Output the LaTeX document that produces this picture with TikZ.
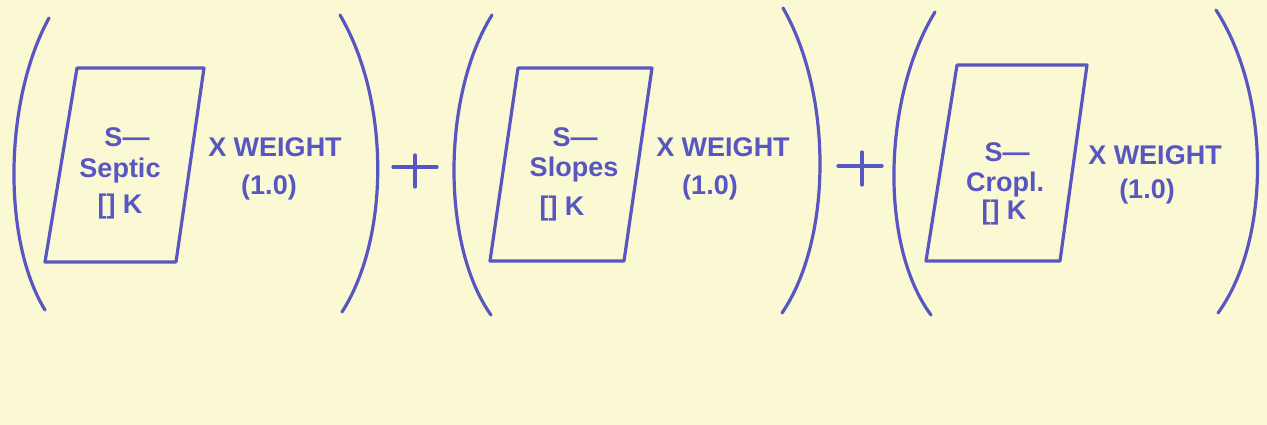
\documentclass[tikz,border=0pt]{standalone}
\usepackage{fontspec}
\setmainfont{Liberation Sans}
\definecolor{paper}{RGB}{250,249,212}
\definecolor{ink}{RGB}{88,86,192}
\tikzset{
  stroke/.style={draw=ink, line width=3.2pt, line cap=round, line join=round},
  lbl/.style={text=ink, font=\fontsize{27}{29}\selectfont\bfseries, inner sep=0pt, anchor=base},
}
\begin{document}
\begin{tikzpicture}[x=1pt,y=-1pt]
\fill[paper] (0,0) rectangle (1267,425);
\useasboundingbox (0,0) rectangle (1267,425);

% group 1
\draw[stroke] (49,18) .. controls (4,100) and (2,240) .. (45,310);
\draw[stroke] (340,15) .. controls (390,100) and (390,237) .. (342,312);
\draw[stroke] (77,68) -- (204,68) -- (176,262) -- (45,262) -- cycle;
\node[lbl] (s1) at (127,147) {S—};
\node[lbl] (t1) at (120,178) {Septic};
\node[lbl] (k1) at (120,213) {[] K};
\node[lbl] (w1) at (275,157) {X WEIGHT};
\node[lbl] (v1) at (269,195) {(1.0)};

% plus 1
\draw[stroke] (393,167) -- (437,167);
\draw[stroke] (415,155) -- (415,187);

% group 2
\draw[stroke] (492,15) .. controls (442,95) and (441,245) .. (491,315);
\draw[stroke] (783,8) .. controls (833,95) and (832,240) .. (782,313);
\draw[stroke] (518,68) -- (652,68) -- (624,261) -- (490,261) -- cycle;
\node[lbl] (s2) at (575,147) {S—};
\node[lbl] (t2) at (574,177) {Slopes};
\node[lbl] (k2) at (562,215) {[] K};
\node[lbl] (w2) at (723,157) {X WEIGHT};
\node[lbl] (v2) at (710,195) {(1.0)};

% plus 2
\draw[stroke] (838,166) -- (882,166);
\draw[stroke] (862,152) -- (862,185);

% group 3
\draw[stroke] (935,12) .. controls (883,97) and (879,245) .. (931,315);
\draw[stroke] (1216,10) .. controls (1271,95) and (1271,240) .. (1218,313);
\draw[stroke] (957,65) -- (1087,65) -- (1060,261) -- (926,261) -- cycle;
\node[lbl] (s3) at (1007,162) {S—};
\node[lbl] (t3) at (1005,192) {Cropl.};
\node[lbl] (k3) at (1004,219) {[] K};
\node[lbl] (w3) at (1155,165) {X WEIGHT};
\node[lbl] (v3) at (1147,198) {(1.0)};
\end{tikzpicture}
\end{document}
